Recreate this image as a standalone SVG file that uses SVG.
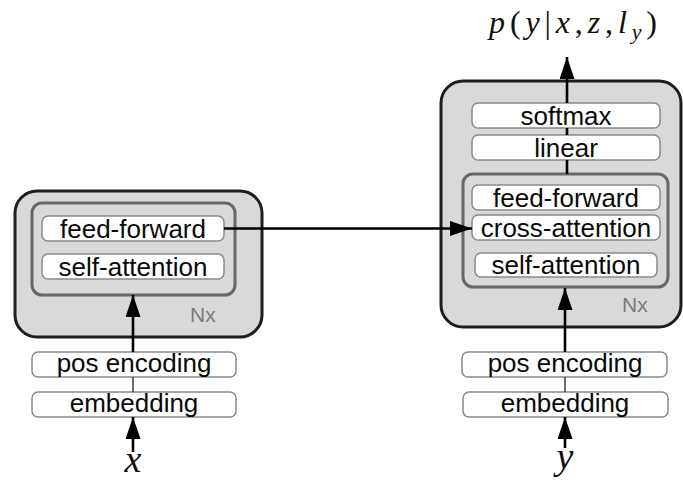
<svg xmlns="http://www.w3.org/2000/svg" width="683" height="485" viewBox="0 0 683 485">
  <style>
    .outer { fill: #d9d9d9; stroke: #1e1e1e; stroke-width: 3; }
    .inner { fill: none; stroke: #676767; stroke-width: 3; }
    .box { fill: #ffffff; stroke: #8a8a8a; stroke-width: 1.5; }
    .lbl { font-family: "Liberation Sans", Arial, sans-serif; font-size: 26px; fill: #0a0a0a; text-anchor: middle; }
    .nx { font-family: "Liberation Sans", Arial, sans-serif; font-size: 21px; fill: #7a7a7a; }
    .math { font-family: "Liberation Serif", "Times New Roman", serif; font-style: italic; fill: #111; }
    .wire { stroke: #000; stroke-width: 2.6; fill: none; }
    .thin { stroke: #222; stroke-width: 1.3; fill: none; }
  </style>
  <defs>
    <marker id="head" viewBox="0 0 22 15" refX="22" refY="7.5" markerWidth="22" markerHeight="15" markerUnits="userSpaceOnUse" orient="auto">
      <path d="M0,0 L22,7.5 L0,15 z" fill="#000"/>
    </marker>
  </defs>

  <!-- encoder -->
  <g id="encoder">
    <rect class="outer" x="15" y="191" width="247" height="146" rx="22"/>
    <rect class="inner" x="32" y="203" width="203" height="92" rx="10"/>
    <text class="nx" x="190" y="322">Nx</text>
  </g>
  <g id="enc-feed-forward">
    <rect class="box" x="42" y="216" width="182" height="25" rx="6"/>
    <text class="lbl" x="133" y="237.5">feed-forward</text>
  </g>
  <g id="enc-self-attention">
    <rect class="box" x="42" y="254" width="182" height="25" rx="6"/>
    <text class="lbl" x="133" y="275.5">self-attention</text>
  </g>
  <g id="enc-pos-encoding">
    <rect class="box" x="32" y="352" width="204" height="25" rx="6"/>
    <text class="lbl" x="134" y="372">pos encoding</text>
  </g>
  <g id="enc-embedding">
    <rect class="box" x="32" y="392" width="204" height="25" rx="6"/>
    <text class="lbl" x="134" y="411.5">embedding</text>
  </g>
  <g id="input-x">
    <text class="math" x="133" y="472" font-size="38" text-anchor="middle">x</text>
  </g>

  <!-- decoder -->
  <g id="decoder">
    <rect class="outer" x="441" y="81" width="240" height="246" rx="22"/>
    <rect class="inner" x="463" y="174" width="205" height="113" rx="10"/>
    <text class="nx" x="622" y="312">Nx</text>
  </g>
  <g id="softmax">
    <rect class="box" x="472" y="103" width="188" height="25" rx="6"/>
    <text class="lbl" x="566" y="124.5">softmax</text>
  </g>
  <g id="linear">
    <rect class="box" x="472" y="135" width="188" height="25" rx="6"/>
    <text class="lbl" x="566" y="156.5">linear</text>
  </g>
  <g id="dec-feed-forward">
    <rect class="box" x="472" y="185" width="188" height="25" rx="6"/>
    <text class="lbl" x="566" y="206.5">feed-forward</text>
  </g>
  <g id="dec-cross-attention">
    <rect class="box" x="472" y="215" width="188" height="25" rx="6"/>
    <text class="lbl" x="566" y="236.5">cross-attention</text>
  </g>
  <g id="dec-self-attention">
    <rect class="box" x="475" y="253" width="182" height="24" rx="6"/>
    <text class="lbl" x="566" y="274">self-attention</text>
  </g>
  <g id="dec-pos-encoding">
    <rect class="box" x="462" y="352" width="205" height="25" rx="6"/>
    <text class="lbl" x="565" y="372">pos encoding</text>
  </g>
  <g id="dec-embedding">
    <rect class="box" x="463" y="392" width="205" height="25" rx="6"/>
    <text class="lbl" x="565" y="411.5">embedding</text>
  </g>
  <g id="input-y">
    <text class="math" x="565" y="469" font-size="38" text-anchor="middle">y</text>
  </g>
  <g id="output">
    <text class="math" x="573" y="33" font-size="32" text-anchor="middle" textLength="168" lengthAdjust="spacing">p<tspan font-style="normal">(</tspan>y<tspan font-style="normal">|</tspan>x<tspan font-style="normal">,</tspan>z<tspan font-style="normal">,</tspan>l<tspan font-size="22" dy="6">y</tspan><tspan font-style="normal" dy="-6">)</tspan></text>
  </g>

  <!-- connectors -->
  <g id="connectors">
    <line class="wire" x1="133" y1="452" x2="133" y2="417" marker-end="url(#head)"/>
    <line class="thin" x1="133" y1="377" x2="133" y2="392"/>
    <line class="wire" x1="133" y1="352" x2="133" y2="295" marker-end="url(#head)"/>
    <line class="wire" x1="224" y1="228.5" x2="472" y2="228.5" marker-end="url(#head)"/>
    <line class="wire" x1="565" y1="448" x2="565" y2="417" marker-end="url(#head)"/>
    <line class="thin" x1="565" y1="377" x2="565" y2="392"/>
    <line class="wire" x1="565" y1="352" x2="565" y2="288" marker-end="url(#head)"/>
    <line class="wire" x1="567" y1="174" x2="567" y2="160"/>
    <line class="wire" x1="567" y1="135" x2="567" y2="128"/>
    <line class="wire" x1="567" y1="103" x2="567" y2="57" marker-end="url(#head)"/>
  </g>
</svg>
